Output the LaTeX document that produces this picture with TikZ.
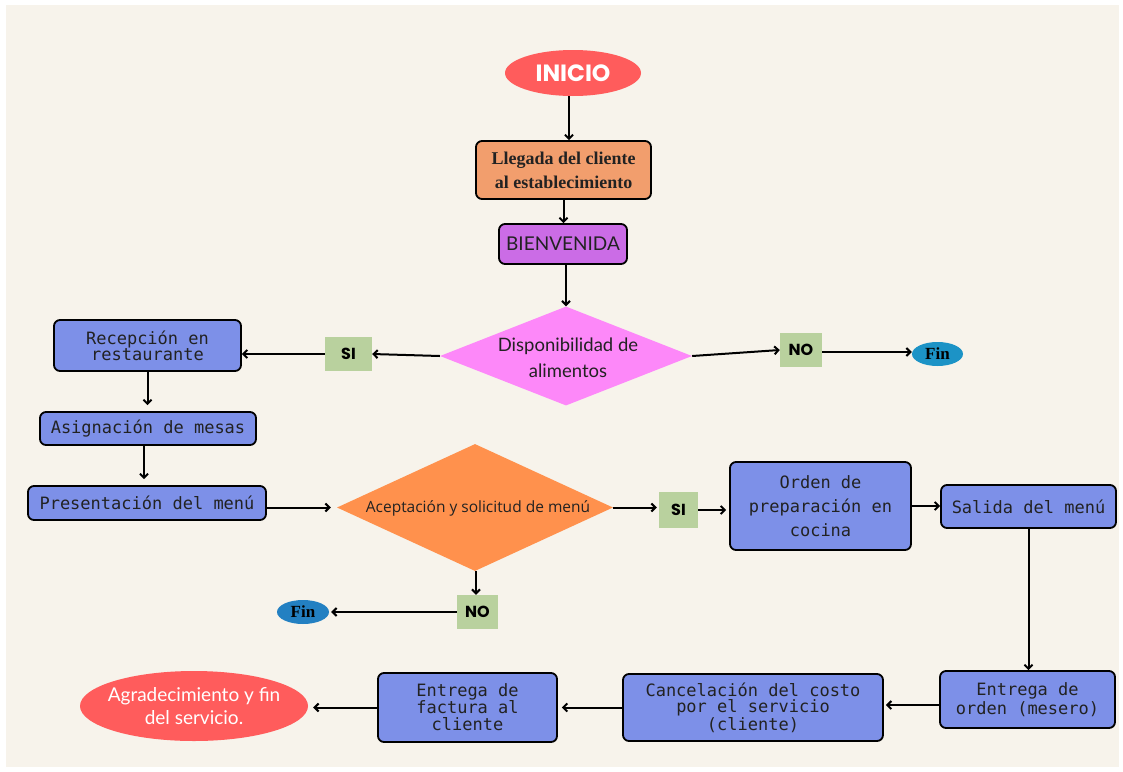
\documentclass[tikz,border=0pt]{standalone}
\usepackage{fontspec}
\setmainfont{Liberation Serif}
\newfontfamily\monof{DejaVu Sans Mono}
\newfontfamily\latof{Lato}
\newfontfamily\opensf{Open Sans}
\newfontfamily\popf{Poppins}
\usetikzlibrary{shapes.geometric,arrows.meta}
\definecolor{bg}{HTML}{F7F3EB}
\definecolor{redell}{HTML}{FF5C5C}
\definecolor{orangebox}{HTML}{F29E6D}
\definecolor{purplebox}{HTML}{CB6CE6}
\definecolor{pinkdia}{HTML}{FD88F9}
\definecolor{labgreen}{HTML}{B9D19E}
\definecolor{bluebox}{HTML}{7D90E8}
\definecolor{orangedia}{HTML}{FF914D}
\definecolor{finblueA}{HTML}{1C93C6}
\definecolor{finblueB}{HTML}{2380C2}
\definecolor{ink}{HTML}{222222}
\begin{document}
\begin{tikzpicture}[x=1pt,y=-1pt,
  box/.style={draw=black,line width=1.8pt,rounded corners=6pt,fill=bluebox,inner sep=0pt,
    align=center,text=ink,font=\monof\fontsize{17}{16}\selectfont},
  lab/.style={fill=labgreen,inner sep=0pt,font=\popf\bfseries\fontsize{16}{16}\selectfont},
  oval/.style={ellipse,inner sep=0pt},
  dia/.style={diamond,inner sep=0pt},
  arr/.style={-{Straight Barb[length=4pt,width=8pt]},line width=2pt},
]
\useasboundingbox (0,0) rectangle (1123,771);
\fill[white] (0,0) rectangle (1123,771);
\fill[bg] (6,5) rectangle (1119,767);

% top
\node[oval,fill=redell,minimum width=136pt,minimum height=46pt] (ini) at (573,73) {};
\node[text=white,font=\popf\bfseries\fontsize{23.5}{23}\selectfont] (initxt) at (ini) {INICIO};
\node[box,fill=orangebox,minimum width=175pt,minimum height=58pt,
  font=\bfseries\fontsize{18}{24}\selectfont] (lleg) at (563.5,170) {Llegada del cliente\\al establecimiento};
\node[box,fill=purplebox,minimum width=128pt,minimum height=40pt,
  font=\latof\fontsize{19}{19}\selectfont] (bien) at (563,244) {BIENVENIDA};

% first decision
\node[dia,fill=pinkdia,minimum width=252pt,minimum height=99pt] (d1) at (566,356) {};
\node[align=center,text=ink,font=\latof\fontsize{18.5}{26}\selectfont] (d1t) at (568,358) {Disponibilidad de\\alimentos};
\node[lab,minimum width=47pt,minimum height=34pt] (si1) at (348.5,354) {SI};
\node[lab,minimum width=42pt,minimum height=34pt] (no1) at (801,350) {NO};
\node[oval,fill=finblueA,minimum width=51pt,minimum height=24pt] (fin1) at (937.5,354) {};
\node[font=\bfseries\fontsize{17}{17}\selectfont] (fin1t) at (fin1) {Fin};

% left column
\node[box,minimum width=187pt,minimum height=51pt] (rec) at (147.5,345.5) {Recepción en\\restaurante};
\node[box,minimum width=216pt,minimum height=33pt] (asig) at (148,428.5) {Asignación de mesas};
\node[box,minimum width=238pt,minimum height=34pt] (pres) at (147,503) {Presentación del menú};

% second decision
\node[dia,fill=orangedia,minimum width=276pt,minimum height=127pt] (d2) at (475,507.5) {};
\node[text=ink,font=\opensf\fontsize{15.5}{15}\selectfont] (d2t) at (478,508) {Aceptación y solicitud de menú};
\node[lab,minimum width=39pt,minimum height=36pt] (si2) at (678.5,510) {SI};
\node[lab,minimum width=41pt,minimum height=34pt] (no2) at (477.5,612) {NO};
\node[oval,fill=finblueB,minimum width=52pt,minimum height=24pt] (fin2) at (303,612) {};
\node[font=\bfseries\fontsize{17}{17}\selectfont] (fin2t) at (fin2) {Fin};

% right side
\node[box,minimum width=181pt,minimum height=88pt,font=\monof\fontsize{17}{24}\selectfont] (ord) at (820.5,506) {Orden de\\preparación en\\cocina};
\node[box,minimum width=175pt,minimum height=43pt] (sal) at (1028.5,506.5) {Salida del menú};
\node[box,minimum width=175pt,minimum height=57pt,font=\monof\fontsize{17}{19}\selectfont] (ent) at (1027.5,699.5) {Entrega de\\orden (mesero)};

% bottom row
\node[box,minimum width=260pt,minimum height=67pt,font=\monof\fontsize{17}{16.5}\selectfont] (canc) at (753,707.5) {Cancelación del costo\\por el servicio\\(cliente)};
\node[box,minimum width=179pt,minimum height=69pt,font=\monof\fontsize{17}{17}\selectfont] (fact) at (467.5,707.5) {Entrega de\\factura al\\cliente};
\node[oval,fill=redell,minimum width=228pt,minimum height=70pt] (agr) at (194,706) {};
\node[align=center,text=white,font=\latof\fontsize{19}{23}\selectfont] (agrt) at (194,706) {Agradecimiento y fin\\del servicio.};

% connectors
\draw[arr] ([xshift=-4pt]ini.south) -- ([xshift=-4pt]ini.south |- lleg.north);
\draw[arr] (lleg.south) -- (lleg.south |- bien.north);
\draw[arr] (bien.south -| d1.north) -- (d1.north);
\draw[arr] (d1.west) -- (si1.east);
\draw[arr] (si1.west) -- (si1.west -| rec.east);
\draw[arr,shorten >=6pt] (rec.south) -- (rec.south |- asig.north);
\draw[arr,shorten >=6pt] ([xshift=-4pt]asig.south) -- ([xshift=-4pt]asig.south |- pres.north);
\draw[arr,shorten >=6pt] (pres.east |- d2.west) -- (d2.west);
\draw[arr,shorten >=2pt] (d2.east) -- (d2.east -| si2.west);
\draw[arr,shorten >=3pt] (si2.east) -- (si2.east -| ord.west);
\draw[arr] (ord.east) -- (ord.east -| sal.west);
\draw[arr] (sal.south) -- (sal.south |- ent.north);
\draw[arr,shorten >=2pt] ([yshift=-5.5pt]ent.west) -- ([yshift=-5.5pt]ent.west -| canc.east);
\draw[arr,shorten >=4pt] (canc.west) -- (canc.west -| fact.east);
\draw[arr,shorten >=5pt] (fact.west) -- (fact.west -| agr.east);
\draw[arr] ([xshift=1pt]d2.south) -- ([xshift=1pt]d2.south |- no2.north);
\draw[arr,shorten >=2pt] (no2.west) -- (no2.west -| fin2.east);
\draw[arr] (d1.east) -- (no1.west);
\draw[arr] ([yshift=-2pt]no1.east) -- ([yshift=-2pt]no1.east -| fin1.west);
\end{tikzpicture}
\end{document}
